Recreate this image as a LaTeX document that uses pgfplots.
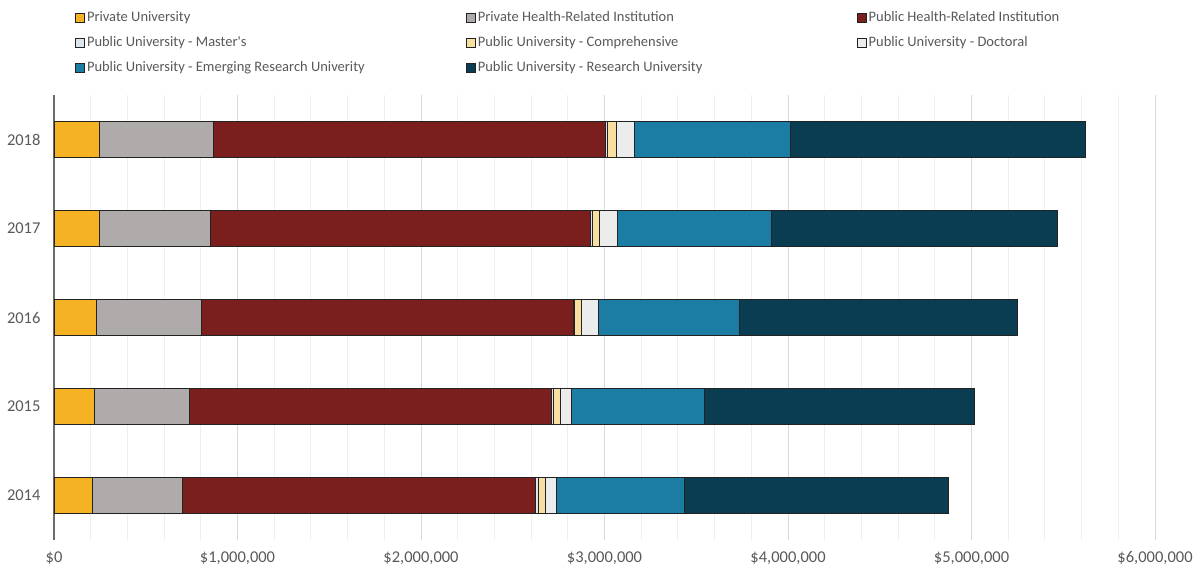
\documentclass[border=0pt]{standalone}
\usepackage{pgfplots}
\pgfplotsset{compat=1.18}
\usepackage{fontspec}
\setmainfont{Carlito}
\definecolor{cPU}{HTML}{F5B324}
\definecolor{cPH}{HTML}{AEABAA}
\definecolor{cPubH}{HTML}{7A1F1D}
\definecolor{cMas}{HTML}{DDE5F0}
\definecolor{cCom}{HTML}{F7DFA0}
\definecolor{cDoc}{HTML}{ECECEC}
\definecolor{cEm}{HTML}{1B7DA4}
\definecolor{cRes}{HTML}{0A3D52}
\definecolor{edge}{HTML}{222222}
\definecolor{txt}{HTML}{595959}
\definecolor{gmaj}{HTML}{D9D9D9}
\definecolor{gmin}{HTML}{EFEFEF}
\pgfplotsset{
  mybar/.style={fill=#1, draw=edge, line width=0.9pt,
    legend image code/.code={\draw[fill=#1, draw=edge, line width=0.8pt] (0pt,-4.5pt) rectangle (9pt,4.5pt);}},
}
\newcommand{\lt}[1]{\makebox[377pt][l]{#1}}
\begin{document}
\begin{tikzpicture}
\begin{axis}[
  name=ax,
  scale only axis,
  width=1101pt, height=445pt,
  xbar stacked,
  bar width=36pt,
  xmin=0, xmax=6000000,
  ymin=-0.5, ymax=4.5,
  enlargelimits=false,
  ytick={0,1,2,3,4},
  yticklabels={2014,2015,2016,2017,2018},
  xtick={0,1000000,2000000,3000000,4000000,5000000,6000000},
  xticklabels={{\$0},{\$1,000,000},{\$2,000,000},{\$3,000,000},{\$4,000,000},{\$5,000,000},{\$6,000,000}},
  scaled x ticks=false,
  minor x tick num=4,
  xmajorgrids, xminorgrids,
  major grid style={draw=gmaj, line width=1pt},
  minor grid style={draw=gmin, line width=1pt},
  major tick length=0pt, minor tick length=0pt,
  axis x line*=bottom, axis y line*=left,
  x axis line style={draw=none},
  y axis line style={draw=gray!85!black, line width=1.3pt},
  ticklabel style={font=\fontsize{16.5}{19}\selectfont, text=txt},
  xticklabel style={yshift=-8pt},
  yticklabel style={xshift=-10pt},
  legend columns=3,
  legend cell align=left,
  legend style={at={(0,1)}, anchor=south west, xshift=21pt, yshift=19pt,
    draw=none, inner sep=0pt, row sep=10pt, column sep=1pt,
    font=\fontsize{14.5}{17}\selectfont, text=txt,
    nodes={inner sep=1pt, text height=10pt, text depth=3pt}},
]
\addplot[mybar=cPU] coordinates {(207000,0) (220000,1) (233000,2) (247000,3) (245000,4)};
\addlegendentry{\lt{Private University}}
\addplot[mybar=cPH] coordinates {(495000,0) (518000,1) (570000,2) (605000,3) (623000,4)};
\addlegendentry{\lt{Private Health-Related Institution}}
\addplot[mybar=cPubH] coordinates {(1924000,0) (1972000,1) (2030000,2) (2071000,3) (2139000,4)};
\addlegendentry{Public Health-Related Institution}
\addplot[mybar=cMas] coordinates {(13000,0) (11000,1) (5000,2) (9000,3) (9000,4)};
\addlegendentry{\lt{Public University - Master\textquotesingle s}}
\addplot[mybar=cCom] coordinates {(40000,0) (37000,1) (38000,2) (40000,3) (47000,4)};
\addlegendentry{\lt{Public University - Comprehensive}}
\addplot[mybar=cDoc] coordinates {(57000,0) (60000,1) (91000,2) (98000,3) (100000,4)};
\addlegendentry{Public University - Doctoral}
\addplot[mybar=cEm] coordinates {(699000,0) (727000,1) (769000,2) (839000,3) (850000,4)};
\addlegendentry{\lt{Public University - Emerging Research Univerity}}
\addplot[mybar=cRes] coordinates {(1439000,0) (1472000,1) (1514000,2) (1557000,3) (1606000,4)};
\addlegendentry{Public University - Research University}
\end{axis}
\path[use as bounding box] ([xshift=-54pt,yshift=-32pt]ax.south west) rectangle ([xshift=47pt,yshift=95pt]ax.north east);
\end{tikzpicture}
\end{document}
